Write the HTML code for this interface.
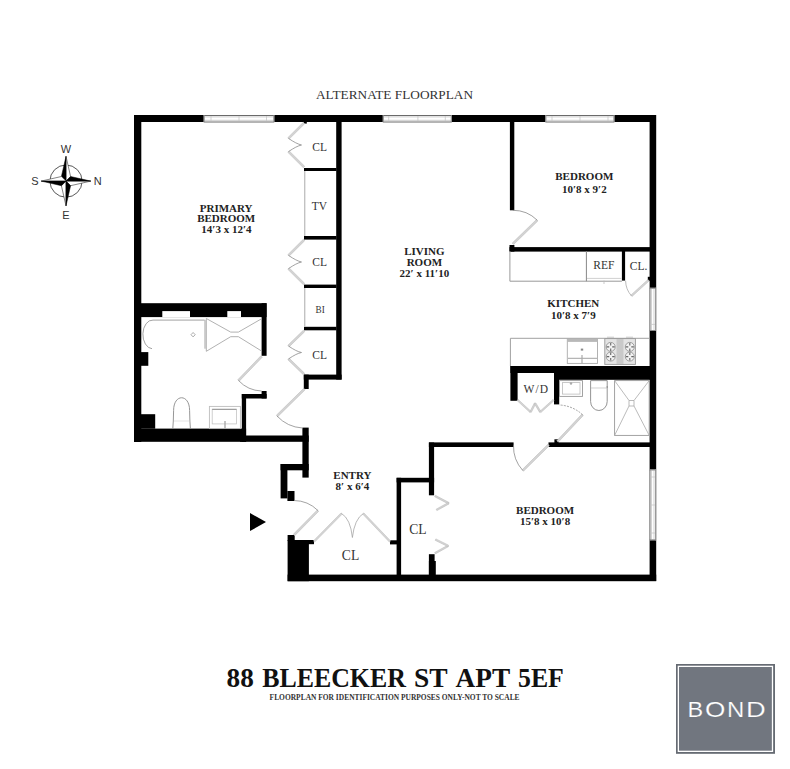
<!DOCTYPE html>
<html><head><meta charset="utf-8"><title>88 Bleecker St Apt 5EF</title>
<style>
html,body{margin:0;padding:0;background:#fff;}
body{width:790px;height:769px;overflow:hidden;}
svg{display:block;}
</style></head>
<body>
<svg width="790" height="769" viewBox="0 0 790 769">
<rect x="0" y="0" width="790" height="769" fill="#fff"/>
<rect x="134" y="115" width="522" height="7" fill="#000"/>
<rect x="134" y="115" width="7.3" height="327" fill="#000"/>
<rect x="649.6" y="115" width="6.6" height="466" fill="#000"/>
<rect x="336.2" y="122" width="5.4" height="257.6" fill="#000"/>
<rect x="304" y="168" width="32.5" height="3" fill="#000"/>
<rect x="304" y="236" width="32.5" height="3.6" fill="#000"/>
<rect x="304" y="284.6" width="32.5" height="3.4" fill="#000"/>
<rect x="304" y="326.8" width="32.5" height="3.5" fill="#000"/>
<rect x="303.8" y="374.6" width="37.8" height="5.0" fill="#000"/>
<rect x="303.8" y="374.6" width="4.9" height="14.4" fill="#000"/>
<rect x="134" y="303.2" width="132.6" height="13.9" fill="#000"/>
<rect x="162.3" y="311.1" width="27.7" height="6.0" fill="#fff"/>
<rect x="227.3" y="311.1" width="13.7" height="6.0" fill="#fff"/>
<rect x="261.6" y="303.2" width="5.0" height="52.6" fill="#000"/>
<rect x="141" y="352.1" width="7.3" height="13.7" fill="#000"/>
<rect x="141" y="414.2" width="14.2" height="14.5" fill="#000"/>
<rect x="134" y="428.6" width="112.1" height="13.2" fill="#000"/>
<rect x="240" y="435.5" width="68.7" height="6.3" fill="#000"/>
<rect x="241.8" y="394" width="24.8" height="4.5" fill="#000"/>
<rect x="261.6" y="391" width="5.0" height="7.5" fill="#000"/>
<rect x="241.8" y="394" width="4.3" height="47.8" fill="#000"/>
<rect x="302.4" y="427.6" width="6.3" height="50.0" fill="#000"/>
<rect x="280.6" y="464" width="28.1" height="6.3" fill="#000"/>
<rect x="280.6" y="464" width="6.8" height="34.4" fill="#000"/>
<rect x="287.4" y="491" width="7.1" height="10" fill="#000"/>
<rect x="287.6" y="540" width="21.3" height="41.2" fill="#000"/>
<rect x="287.6" y="535" width="7.1" height="6" fill="#000"/>
<rect x="308" y="540" width="6" height="4.2" fill="#000"/>
<rect x="287.6" y="574.6" width="368.6" height="6.6" fill="#000"/>
<rect x="396.6" y="477.8" width="4.5" height="103.2" fill="#000"/>
<rect x="390" y="540.3" width="7" height="4.1" fill="#000"/>
<rect x="396.6" y="477.8" width="37.5" height="4.6" fill="#000"/>
<rect x="428.9" y="442.5" width="5.2" height="52.8" fill="#000"/>
<rect x="428.9" y="554.2" width="5.7" height="26.8" fill="#000"/>
<rect x="428.9" y="561" width="6.9" height="20" fill="#000"/>
<rect x="428.9" y="442.4" width="84.7" height="4.6" fill="#000"/>
<rect x="548.5" y="442.4" width="107.5" height="4.6" fill="#000"/>
<rect x="554.4" y="439.3" width="4.4" height="4.1" fill="#000"/>
<rect x="509.9" y="122" width="4.4" height="88.3" fill="#000"/>
<rect x="509.5" y="245" width="4.9" height="6.6" fill="#000"/>
<rect x="509.5" y="247.1" width="146.5" height="4.5" fill="#000"/>
<rect x="621.9" y="251" width="3.2" height="29.6" fill="#000"/>
<rect x="510.4" y="366" width="145.6" height="7" fill="#000"/>
<rect x="554" y="366" width="102" height="13.8" fill="#000"/>
<rect x="647.8" y="276.8" width="2.2" height="4.2" fill="#000"/>
<rect x="303.6" y="121" width="3.2" height="2.6" fill="#000"/>
<rect x="510.4" y="366" width="7.2" height="34.8" fill="#000"/>
<rect x="554" y="366" width="5.2" height="38.4" fill="#000"/>
<rect x="203.7" y="115" width="70.6" height="7" fill="#fff"/>
<path d="M203.7,115.5 L274.3,115.5" stroke="#6a6a6a" stroke-width="1" fill="none"/>
<path d="M203.7,122 L274.3,122" stroke="#6a6a6a" stroke-width="1" fill="none"/>
<path d="M204.7,116.9 L273.3,116.9" stroke="#c0c0c0" stroke-width="0.8" fill="none"/>
<path d="M204.7,120.3 L273.3,120.3" stroke="#c0c0c0" stroke-width="0.8" fill="none"/>
<path d="M204.2,115 L204.2,122" stroke="#888" stroke-width="1" fill="none"/>
<path d="M273.8,115 L273.8,122" stroke="#888" stroke-width="1" fill="none"/>
<path d="M211,116 L211,121" stroke="#c8c8c8" stroke-width="0.8" fill="none"/>
<path d="M239,116 L239,121" stroke="#c8c8c8" stroke-width="0.8" fill="none"/>
<path d="M266.5,116 L266.5,121" stroke="#c8c8c8" stroke-width="0.8" fill="none"/>
<rect x="382.8" y="115" width="69.0" height="7" fill="#fff"/>
<path d="M382.8,115.5 L451.8,115.5" stroke="#6a6a6a" stroke-width="1" fill="none"/>
<path d="M382.8,122 L451.8,122" stroke="#6a6a6a" stroke-width="1" fill="none"/>
<path d="M383.8,116.9 L450.8,116.9" stroke="#c0c0c0" stroke-width="0.8" fill="none"/>
<path d="M383.8,120.3 L450.8,120.3" stroke="#c0c0c0" stroke-width="0.8" fill="none"/>
<path d="M383.3,115 L383.3,122" stroke="#888" stroke-width="1" fill="none"/>
<path d="M451.3,115 L451.3,122" stroke="#888" stroke-width="1" fill="none"/>
<path d="M388.7,116 L388.7,121" stroke="#c8c8c8" stroke-width="0.8" fill="none"/>
<path d="M417.9,116 L417.9,121" stroke="#c8c8c8" stroke-width="0.8" fill="none"/>
<path d="M445.3,116 L445.3,121" stroke="#c8c8c8" stroke-width="0.8" fill="none"/>
<rect x="545.4" y="115" width="69.0" height="7" fill="#fff"/>
<path d="M545.4,115.5 L614.4,115.5" stroke="#6a6a6a" stroke-width="1" fill="none"/>
<path d="M545.4,122 L614.4,122" stroke="#6a6a6a" stroke-width="1" fill="none"/>
<path d="M546.4,116.9 L613.4,116.9" stroke="#c0c0c0" stroke-width="0.8" fill="none"/>
<path d="M546.4,120.3 L613.4,120.3" stroke="#c0c0c0" stroke-width="0.8" fill="none"/>
<path d="M545.9,115 L545.9,122" stroke="#888" stroke-width="1" fill="none"/>
<path d="M613.9,115 L613.9,122" stroke="#888" stroke-width="1" fill="none"/>
<path d="M552,116 L552,121" stroke="#c8c8c8" stroke-width="0.8" fill="none"/>
<path d="M580,116 L580,121" stroke="#c8c8c8" stroke-width="0.8" fill="none"/>
<path d="M608,116 L608,121" stroke="#c8c8c8" stroke-width="0.8" fill="none"/>
<rect x="649.5" y="287.8" width="6.5" height="43.2" fill="#fff"/>
<path d="M650.0,287.8 L650.0,331" stroke="#777" stroke-width="1" fill="none"/>
<path d="M655.5,287.8 L655.5,331" stroke="#999" stroke-width="1" fill="none"/>
<path d="M651.5,288.8 L651.5,330" stroke="#c8c8c8" stroke-width="0.8" fill="none"/>
<path d="M654,288.8 L654,330" stroke="#c8c8c8" stroke-width="0.8" fill="none"/>
<path d="M649.5,288.3 L656,288.3" stroke="#888" stroke-width="1" fill="none"/>
<path d="M649.5,330.5 L656,330.5" stroke="#888" stroke-width="1" fill="none"/>
<path d="M650.5,324.4 L655,324.4" stroke="#c8c8c8" stroke-width="0.8" fill="none"/>
<rect x="649.5" y="469.5" width="6.5" height="70.8" fill="#fff"/>
<path d="M650.0,469.5 L650.0,540.3" stroke="#777" stroke-width="1" fill="none"/>
<path d="M655.5,469.5 L655.5,540.3" stroke="#999" stroke-width="1" fill="none"/>
<path d="M651.5,470.5 L651.5,539.3" stroke="#c8c8c8" stroke-width="0.8" fill="none"/>
<path d="M654,470.5 L654,539.3" stroke="#c8c8c8" stroke-width="0.8" fill="none"/>
<path d="M649.5,470.0 L656,470.0" stroke="#888" stroke-width="1" fill="none"/>
<path d="M649.5,539.8 L656,539.8" stroke="#888" stroke-width="1" fill="none"/>
<path d="M650.5,477 L655,477" stroke="#c8c8c8" stroke-width="0.8" fill="none"/>
<path d="M650.5,505 L655,505" stroke="#c8c8c8" stroke-width="0.8" fill="none"/>
<path d="M650.5,533 L655,533" stroke="#c8c8c8" stroke-width="0.8" fill="none"/>
<path d="M303.30,122.29 L287.80,137.69 L289.20,139.11 L304.70,123.71 Z" stroke="#b4b4b4" stroke-width="0.5" fill="#d4d4d4"/>
<path d="M287.80,152.31 L303.30,167.71 L304.70,166.29 L289.20,150.89 Z" stroke="#b4b4b4" stroke-width="0.5" fill="#d4d4d4"/>
<path d="M288.5,138.4 Q296.5,143.9 301.5,145.0 Q296.5,146.1 288.5,151.6" stroke="#8a8a8a" stroke-width="0.8" fill="none" />
<path d="M303.30,239.29 L287.80,254.69 L289.20,256.11 L304.70,240.71 Z" stroke="#b4b4b4" stroke-width="0.5" fill="#d4d4d4"/>
<path d="M287.80,269.31 L303.30,284.71 L304.70,283.29 L289.20,267.89 Z" stroke="#b4b4b4" stroke-width="0.5" fill="#d4d4d4"/>
<path d="M288.5,255.4 Q296.5,260.9 301.5,262.0 Q296.5,263.1 288.5,268.6" stroke="#8a8a8a" stroke-width="0.8" fill="none" />
<path d="M303.30,330.28 L287.80,345.33 L289.20,346.77 L304.70,331.72 Z" stroke="#b4b4b4" stroke-width="0.5" fill="#d4d4d4"/>
<path d="M287.80,359.67 L303.30,374.72 L304.70,373.28 L289.20,358.23 Z" stroke="#b4b4b4" stroke-width="0.5" fill="#d4d4d4"/>
<path d="M288.5,346.05 Q296.5,351.55 301.5,352.5 Q296.5,353.45 288.5,358.95" stroke="#8a8a8a" stroke-width="0.8" fill="none" />
<path d="M304.7,171 L304.7,236" stroke="#c2c2c2" stroke-width="1.4" fill="none"/>
<path d="M304.7,288 L304.7,327" stroke="#c2c2c2" stroke-width="1.4" fill="none"/>
<path d="M260.88,355.81 L237.78,379.81 L239.22,381.19 L262.32,357.19 Z" stroke="#b4b4b4" stroke-width="0.5" fill="#d4d4d4"/>
<path d="M238.5,380.5 A33,33 0 0 0 261.6,391" stroke="#8c8c8c" stroke-width="0.8" fill="none" />
<path d="M303.80,388.29 L276.30,415.29 L277.70,416.71 L305.20,389.71 Z" stroke="#b4b4b4" stroke-width="0.5" fill="#d4d4d4"/>
<path d="M277,416 A38,38 0 0 0 302.4,428" stroke="#8c8c8c" stroke-width="0.8" fill="none" />
<path d="M294.71,535.70 L318.71,511.30 L317.29,509.90 L293.29,534.30 Z" stroke="#b4b4b4" stroke-width="0.5" fill="#d4d4d4"/>
<path d="M318,510.6 A34.6,34.6 0 0 0 294,500.5" stroke="#8c8c8c" stroke-width="0.8" fill="none" />
<path d="M250,513 L266,522 L250,531 Z" fill="#000"/>
<path d="M314.61,542.10 L342.21,514.10 L340.99,512.90 L313.39,540.90 Z" stroke="#b4b4b4" stroke-width="0.5" fill="#d4d4d4"/>
<path d="M390.62,540.91 L363.92,512.91 L362.68,514.09 L389.38,542.09 Z" stroke="#b4b4b4" stroke-width="0.5" fill="#d4d4d4"/>
<path d="M341.6,513.5 Q350.5,519 352.4,537.5" stroke="#999" stroke-width="0.7" fill="none" />
<path d="M363.3,513.5 Q354.5,519 352.4,537.5" stroke="#999" stroke-width="0.7" fill="none" />
<path d="M434.63,496.71 L448.33,503.91 L449.07,502.49 L435.37,495.29 Z" stroke="#b4b4b4" stroke-width="0.5" fill="#d4d4d4"/>
<path d="M448.31,502.50 L436.11,509.20 L436.89,510.60 L449.09,503.90 Z" stroke="#b4b4b4" stroke-width="0.5" fill="#d4d4d4"/>
<path d="M435.39,553.90 L448.59,546.60 L447.81,545.20 L434.61,552.50 Z" stroke="#b4b4b4" stroke-width="0.5" fill="#d4d4d4"/>
<path d="M448.56,545.18 L435.86,538.88 L435.14,540.32 L447.84,546.62 Z" stroke="#b4b4b4" stroke-width="0.5" fill="#d4d4d4"/>
<path d="M513.60,244.52 L537.90,220.92 L536.50,219.48 L512.20,243.08 Z" stroke="#b4b4b4" stroke-width="0.5" fill="#d4d4d4"/>
<path d="M537.2,220.2 A34.3,34.3 0 0 0 512.8,210.3" stroke="#888" stroke-width="0.8" fill="none" />
<path d="M509.9,251 L509.9,281.2 L621.9,281.2" stroke="#999" stroke-width="1" fill="none"/>
<path d="M586.4,251 L586.4,281.2" stroke="#888" stroke-width="1" fill="none"/>
<path d="M587,278.4 L621.5,278.4" stroke="#c4c4c4" stroke-width="0.8" fill="none"/>
<path d="M648.00,279.53 L630.80,295.13 L632.00,296.47 L649.20,280.87 Z" stroke="#b4b4b4" stroke-width="0.5" fill="#d4d4d4"/>
<path d="M625.6,280.8 A23.2,23.2 0 0 0 631.4,295.8" stroke="#aaa" stroke-width="0.8" fill="none" />
<path d="M604,280.6 L604,284" stroke="#bbb" stroke-width="0.8" fill="none"/>
<path d="M510.4,366 L510.4,338.3 L649.6,338.3" stroke="#a0a0a0" stroke-width="1" fill="none"/>
<rect x="567.3" y="338.9" width="30.2" height="24.5" fill="none" stroke="#aaa" stroke-width="0.9"/>
<rect x="567.3" y="338.9" width="30.2" height="3" fill="#b8b8b8"/>
<path d="M568,358.3 L597,358.3" stroke="#999" stroke-width="0.9" fill="none"/>
<rect x="580.8" y="348.6" width="2.4" height="2" fill="#888"/>
<path d="M582,355 L582,363.4" stroke="#aaa" stroke-width="1.2" fill="none"/>
<rect x="604.8" y="338.6" width="30.6" height="25.8" fill="#e4e4e4" stroke="#999" stroke-width="0.9"/>
<rect x="616.5" y="339" width="7" height="25" fill="#c9c9c9"/>
<circle cx="610.7" cy="346.9" r="4.5" fill="#f2f2f2" stroke="#8a8a8a" stroke-width="0.8"/>
<path d="M606.7,346.9 L609.2,346.9 M612.2,346.9 L614.7,346.9 M610.7,342.9 L610.7,345.4 M610.7,348.4 L610.7,350.9" stroke="#666" stroke-width="1.1"/>
<circle cx="610.7" cy="356.6" r="4.5" fill="#f2f2f2" stroke="#8a8a8a" stroke-width="0.8"/>
<path d="M606.7,356.6 L609.2,356.6 M612.2,356.6 L614.7,356.6 M610.7,352.6 L610.7,355.1 M610.7,358.1 L610.7,360.6" stroke="#666" stroke-width="1.1"/>
<circle cx="629.8" cy="346.9" r="4.5" fill="#f2f2f2" stroke="#8a8a8a" stroke-width="0.8"/>
<path d="M625.8,346.9 L628.3,346.9 M631.3,346.9 L633.8,346.9 M629.8,342.9 L629.8,345.4 M629.8,348.4 L629.8,350.9" stroke="#666" stroke-width="1.1"/>
<circle cx="629.8" cy="356.6" r="4.5" fill="#f2f2f2" stroke="#8a8a8a" stroke-width="0.8"/>
<path d="M625.8,356.6 L628.3,356.6 M631.3,356.6 L633.8,356.6 M629.8,352.6 L629.8,355.1 M629.8,358.1 L629.8,360.6" stroke="#666" stroke-width="1.1"/>
<path d="M607,337.2 L614,337.2" stroke="#bbb" stroke-width="0.8" fill="none"/>
<path d="M626,337.2 L633,337.2" stroke="#bbb" stroke-width="0.8" fill="none"/>
<path d="M517.06,400.59 L530.06,412.59 L531.14,411.41 L518.14,399.41 Z" stroke="#b4b4b4" stroke-width="0.5" fill="#d4d4d4"/>
<path d="M531.31,412.37 L535.81,403.67 L534.39,402.93 L529.89,411.63 Z" stroke="#b4b4b4" stroke-width="0.5" fill="#d4d4d4"/>
<path d="M534.41,403.71 L539.61,412.41 L540.99,411.59 L535.79,402.89 Z" stroke="#b4b4b4" stroke-width="0.5" fill="#d4d4d4"/>
<path d="M540.84,412.59 L554.14,400.59 L553.06,399.41 L539.76,411.41 Z" stroke="#b4b4b4" stroke-width="0.5" fill="#d4d4d4"/>
<path d="M558.23,442.18 L583.33,415.48 L581.87,414.12 L556.77,440.82 Z" stroke="#b4b4b4" stroke-width="0.5" fill="#d4d4d4"/>
<path d="M582.6,414.8 A36,36 0 0 0 559.2,405" stroke="#8c8c8c" stroke-width="0.8" fill="none" stroke-dasharray="2,1.2"/>
<path d="M547.90,444.29 L522.10,469.79 L523.50,471.21 L549.30,445.71 Z" stroke="#b4b4b4" stroke-width="0.5" fill="#d4d4d4"/>
<path d="M522.8,470.5 A36,36 0 0 1 513.5,445.3" stroke="#8c8c8c" stroke-width="0.8" fill="none" />
<rect x="559.5" y="380.6" width="23" height="15.8" fill="none" stroke="#999" stroke-width="0.9"/>
<rect x="562.5" y="382.6" width="17.5" height="11.5" fill="none" stroke="#bbb" stroke-width="0.8"/>
<circle cx="571" cy="383.5" r="1.2" fill="#aaa"/>
<path d="M590.6,380.6 L607.2,380.6 L607.2,388 M590.6,380.6 L590.6,401.5 A8.3,9 0 0 0 607.2,401.5 L607.2,386" stroke="#888" stroke-width="0.9" fill="none" />
<path d="M591,388 L607,388" stroke="#bbb" stroke-width="0.7" fill="none"/>
<rect x="614.6" y="380.6" width="34.6" height="54.8" fill="none" stroke="#999" stroke-width="0.9"/>
<path d="M614.6,380.6 L629,400.5 M649.2,380.6 L634,400.5 M614.6,435.4 L629,406 M649.2,435.4 L634,406 M629,400.5 L634,400.5 L634,406 L629,406 Z" stroke="#aaa" stroke-width="0.8" fill="none" />
<path d="M204.6,320.1 L153,320.1 A9.6,14.3 0 0 0 152,348.7" stroke="#999" stroke-width="0.9" fill="none" />
<path d="M205,320.1 L205,348.7" stroke="#999" stroke-width="0.9" fill="none"/>
<path d="M193.1,332.5 L195.2,334.7 L193.1,336.9 L191,334.7 Z" fill="none" stroke="#888" stroke-width="0.7"/>
<path d="M206.3,318.5 L206.3,351.3 M206.3,318.5 L230.7,332.1 M206.3,351.3 L230.7,336.7 M262,318.5 L238.4,332.1 M262,351.3 L238.4,336.7 M230.7,332.1 L238.4,332.1 M230.7,336.7 L238.4,336.7" stroke="#a8a8a8" stroke-width="0.9" fill="none" />
<path d="M172.8,428.6 L173.3,421 L173.6,410.5 C173.6,393.5 189.6,393.5 189.6,410.5 L189.9,421 L190.4,428.6" stroke="#8a8a8a" stroke-width="0.9" fill="none" />
<path d="M174,421 L189.5,421" stroke="#d0d0d0" stroke-width="0.6" fill="none"/>
<rect x="209.4" y="406.4" width="31" height="22.2" fill="none" stroke="#bdbdbd" stroke-width="0.9"/>
<rect x="212.2" y="409.3" width="24.3" height="14.6" fill="none" stroke="#c4c4c4" stroke-width="0.8"/>
<path d="M212.2,409.3 L236.5,409.3" stroke="#8a8a8a" stroke-width="0.9" fill="none"/>
<path d="M225,421 L225,428.6" stroke="#aaa" stroke-width="1.4" fill="none"/>
<circle cx="66.0" cy="181.1" r="16.1" fill="none" stroke="#444" stroke-width="0.9"/>
<path d="M66.0,181.1 L66.00,156.30 L70.60,176.50 Z" fill="#fff" stroke="#333" stroke-width="0.6" stroke-linejoin="round"/>
<path d="M66.0,181.1 L66.00,156.30 L61.40,176.50 Z" fill="#000" stroke="#000" stroke-width="0.5" stroke-linejoin="round"/>
<path d="M66.0,181.1 L90.80,181.10 L70.60,185.70 Z" fill="#fff" stroke="#333" stroke-width="0.6" stroke-linejoin="round"/>
<path d="M66.0,181.1 L90.80,181.10 L70.60,176.50 Z" fill="#000" stroke="#000" stroke-width="0.5" stroke-linejoin="round"/>
<path d="M66.0,181.1 L66.00,205.90 L61.40,185.70 Z" fill="#fff" stroke="#333" stroke-width="0.6" stroke-linejoin="round"/>
<path d="M66.0,181.1 L66.00,205.90 L70.60,185.70 Z" fill="#000" stroke="#000" stroke-width="0.5" stroke-linejoin="round"/>
<path d="M66.0,181.1 L41.20,181.10 L61.40,176.50 Z" fill="#fff" stroke="#333" stroke-width="0.6" stroke-linejoin="round"/>
<path d="M66.0,181.1 L41.20,181.10 L61.40,185.70 Z" fill="#000" stroke="#000" stroke-width="0.5" stroke-linejoin="round"/>
<text x="66.0" y="152.5" font-family="Liberation Sans" font-size="11" font-weight="normal" fill="#333" letter-spacing="0" text-anchor="middle" >W</text>
<text x="66.0" y="218.5" font-family="Liberation Sans" font-size="11" font-weight="normal" fill="#333" letter-spacing="0" text-anchor="middle" >E</text>
<text x="35" y="185.3" font-family="Liberation Sans" font-size="11" font-weight="normal" fill="#333" letter-spacing="0" text-anchor="middle" >S</text>
<text x="97.8" y="185.3" font-family="Liberation Sans" font-size="11" font-weight="normal" fill="#333" letter-spacing="0" text-anchor="middle" >N</text>
<text x="394.5" y="99.2" font-family="Liberation Serif" font-size="12" font-weight="normal" fill="#333" letter-spacing="0" text-anchor="middle" textLength="157" lengthAdjust="spacingAndGlyphs">ALTERNATE FLOORPLAN</text>
<text x="226.2" y="211.5" font-family="Liberation Serif" font-size="11" font-weight="bold" fill="#222" letter-spacing="0" text-anchor="middle" >PRIMARY</text>
<text x="226.2" y="221.8" font-family="Liberation Serif" font-size="11" font-weight="bold" fill="#222" letter-spacing="0" text-anchor="middle" >BEDROOM</text>
<text x="226.4" y="233.0" font-family="Liberation Serif" font-size="11" font-weight="bold" fill="#222" letter-spacing="0" text-anchor="middle" >14′3 x 12′4</text>
<text x="424.4" y="255.2" font-family="Liberation Serif" font-size="11" font-weight="bold" fill="#222" letter-spacing="0" text-anchor="middle" >LIVING</text>
<text x="424.4" y="265.8" font-family="Liberation Serif" font-size="11" font-weight="bold" fill="#222" letter-spacing="0" text-anchor="middle" >ROOM</text>
<text x="424.4" y="277.0" font-family="Liberation Serif" font-size="11" font-weight="bold" fill="#222" letter-spacing="0" text-anchor="middle" >22′ x 11′10</text>
<text x="584.3" y="179.8" font-family="Liberation Serif" font-size="11" font-weight="bold" fill="#222" letter-spacing="0" text-anchor="middle" >BEDROOM</text>
<text x="584.3" y="192.6" font-family="Liberation Serif" font-size="11" font-weight="bold" fill="#222" letter-spacing="0" text-anchor="middle" >10′8 x 9′2</text>
<text x="573.3" y="306.9" font-family="Liberation Serif" font-size="11" font-weight="bold" fill="#222" letter-spacing="0" text-anchor="middle" >KITCHEN</text>
<text x="573.3" y="318.5" font-family="Liberation Serif" font-size="11" font-weight="bold" fill="#222" letter-spacing="0" text-anchor="middle" >10′8 x 7′9</text>
<text x="352.4" y="478.8" font-family="Liberation Serif" font-size="11" font-weight="bold" fill="#222" letter-spacing="0" text-anchor="middle" >ENTRY</text>
<text x="352.4" y="489.8" font-family="Liberation Serif" font-size="11" font-weight="bold" fill="#222" letter-spacing="0" text-anchor="middle" >8′ x 6′4</text>
<text x="545.1" y="514.4" font-family="Liberation Serif" font-size="11" font-weight="bold" fill="#222" letter-spacing="0" text-anchor="middle" >BEDROOM</text>
<text x="545.1" y="525.4" font-family="Liberation Serif" font-size="11" font-weight="bold" fill="#222" letter-spacing="0" text-anchor="middle" >15′8 x 10′8</text>
<text x="319.7" y="150.6" font-family="Liberation Serif" font-size="11.5" font-weight="normal" fill="#333" letter-spacing="0" text-anchor="middle" >CL</text>
<text x="319.5" y="209.9" font-family="Liberation Serif" font-size="11.5" font-weight="normal" fill="#333" letter-spacing="0" text-anchor="middle" >TV</text>
<text x="319.7" y="265.9" font-family="Liberation Serif" font-size="11.5" font-weight="normal" fill="#333" letter-spacing="0" text-anchor="middle" >CL</text>
<text x="320.2" y="312.5" font-family="Liberation Serif" font-size="11" font-weight="normal" fill="#333" letter-spacing="0" text-anchor="middle" textLength="9.2" lengthAdjust="spacingAndGlyphs">BI</text>
<text x="319.7" y="359.0" font-family="Liberation Serif" font-size="11.5" font-weight="normal" fill="#333" letter-spacing="0" text-anchor="middle" >CL</text>
<text x="603.9" y="268.7" font-family="Liberation Serif" font-size="11.5" font-weight="normal" fill="#333" letter-spacing="0" text-anchor="middle" >REF</text>
<text x="638.6" y="270.3" font-family="Liberation Serif" font-size="11.5" font-weight="normal" fill="#333" letter-spacing="0" text-anchor="middle" >CL.</text>
<text x="536.3" y="392.7" font-family="Liberation Serif" font-size="11.5" font-weight="normal" fill="#333" letter-spacing="1" text-anchor="middle" >W/D</text>
<text x="350.5" y="560.3" font-family="Liberation Serif" font-size="13.6" font-weight="normal" fill="#333" letter-spacing="0" text-anchor="middle" >CL</text>
<text x="417.9" y="533.6" font-family="Liberation Serif" font-size="13.6" font-weight="normal" fill="#333" letter-spacing="0" text-anchor="middle" >CL</text>
<text x="226.6" y="686.5" font-family="Liberation Serif" font-size="26.5" font-weight="bold" fill="#111" letter-spacing="0" text-anchor="start" textLength="27.2" lengthAdjust="spacingAndGlyphs">88</text>
<text x="262.2" y="686.5" font-family="Liberation Serif" font-size="26.5" font-weight="bold" fill="#111" letter-spacing="0" text-anchor="start" textLength="143.6" lengthAdjust="spacingAndGlyphs">BLEECKER</text>
<text x="413.9" y="686.5" font-family="Liberation Serif" font-size="26.5" font-weight="bold" fill="#111" letter-spacing="0" text-anchor="start" textLength="33.6" lengthAdjust="spacingAndGlyphs">ST</text>
<text x="455.6" y="686.5" font-family="Liberation Serif" font-size="26.5" font-weight="bold" fill="#111" letter-spacing="0" text-anchor="start" textLength="54.6" lengthAdjust="spacingAndGlyphs">APT</text>
<text x="518.0" y="686.5" font-family="Liberation Serif" font-size="26.5" font-weight="bold" fill="#111" letter-spacing="0" text-anchor="start" textLength="45.8" lengthAdjust="spacingAndGlyphs">5EF</text>
<text x="394.6" y="699.9" font-family="Liberation Serif" font-size="7.8" font-weight="bold" fill="#333" letter-spacing="0" text-anchor="middle" textLength="250" lengthAdjust="spacingAndGlyphs">FLOORPLAN FOR IDENTIFICATION PURPOSES ONLY-NOT TO SCALE</text>
<rect x="676" y="664" width="99" height="89.8" fill="#666b73"/>
<rect x="678.35" y="666.35" width="94.15" height="85" fill="#71767f" stroke="#fff" stroke-width="1.3"/>
<text x="0" y="716.9" font-family="Liberation Sans" font-size="22.4" font-weight="normal" fill="#fff" letter-spacing="0" text-anchor="middle" stroke="#71767f" stroke-width="0.2" transform="translate(695.3000000000001,0) scale(1.05,1)">B</text>
<text x="0" y="716.9" font-family="Liberation Sans" font-size="22.4" font-weight="normal" fill="#fff" letter-spacing="0" text-anchor="middle" stroke="#71767f" stroke-width="0.2" transform="translate(715.0999999999999,0) scale(1.17,1)">O</text>
<text x="0" y="716.9" font-family="Liberation Sans" font-size="22.4" font-weight="normal" fill="#fff" letter-spacing="0" text-anchor="middle" stroke="#71767f" stroke-width="0.2" transform="translate(735.6,0) scale(1.07,1)">N</text>
<text x="0" y="716.9" font-family="Liberation Sans" font-size="22.4" font-weight="normal" fill="#fff" letter-spacing="0" text-anchor="middle" stroke="#71767f" stroke-width="0.2" transform="translate(755.75,0) scale(1.22,1)">D</text>
</svg>
</body></html>
